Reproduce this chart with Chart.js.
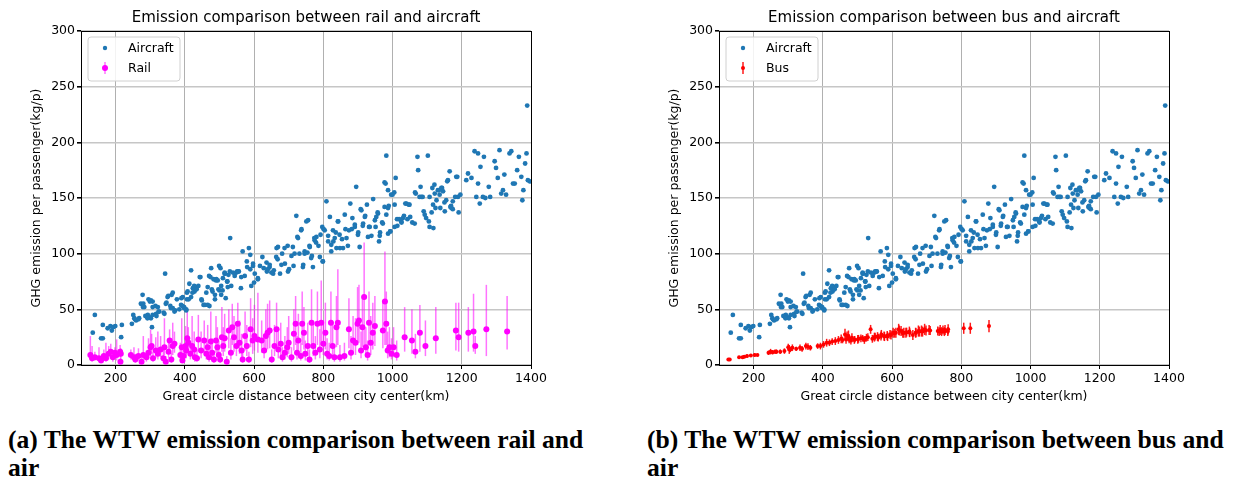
<!DOCTYPE html>
<html><head><meta charset="utf-8">
<script src="https://cdn.jsdelivr.net/npm/chart.js@4/dist/chart.umd.min.js"></script>
<style>
html,body{margin:0;padding:0;background:#fff;}
body{width:1234px;height:483px;position:relative;overflow:hidden;}
#c1{position:absolute;left:0;top:0;}
#c2{position:absolute;left:638px;top:0;}
.cap{position:absolute;top:426px;font-family:"Liberation Serif","Times New Roman",serif;font-weight:bold;font-size:25.6px;line-height:28px;color:#000;white-space:nowrap;}
</style></head>
<body>
<canvas id="c1" width="617" height="412"></canvas>
<canvas id="c2" width="596" height="412"></canvas>
<div class="cap" style="left:8px">(a) The WTW emission comparison between rail and<br>air</div>
<div class="cap" style="left:647px">(b) The WTW emission comparison between bus and<br>air</div>
<script>
// ---------- data ----------
const xTicks = [200, 400, 600, 800, 1000, 1200, 1400];
const yTicks = [0, 50, 100, 150, 200, 250, 300];
const xLabel = 'Great circle distance between city center(km)';
const yLabel = 'GHG emission per passenger(kg/p)';
const titleRail = 'Emission comparison between rail and aircraft';
const titleBus = 'Emission comparison between bus and aircraft';

// aircraft: [distance km, kg per passenger]
const aircraftPoints = [
[134,29],[140,45],[158,24],[163,24],[163,36],[177,33],[185,35],[189,31],[193,34],[199,35],[216,25],[218,36],
[247,37],[251,45],[254,42],[259,40],[268,42],[278,63],[280,55],[283,52],[293,45],[297,43],[302,58],[307,57],
[302,42],[305,34],[307,52],[317,46],[322,52],[326,48],[341,46],[343,82],[345,55],[350,61],[358,53],[362,63],
[365,65],[360,51],[372,49],[389,54],[394,61],[398,52],[404,49],[408,66],[406,59],[413,73],[418,85],[418,61],
[423,69],[428,66],[435,70],[439,71],[445,79],[449,58],[458,54],[466,70],[471,53],[474,79],[476,87],[480,66],
[487,59],[490,76],[495,76],[500,67],[503,87],[505,63],[509,67],[516,82],[522,75],[526,81],[524,70],
[531,114],[515,82],[530,84],[549,83],[556,84],[563,79],[580,88],[585,105],[589,99],[597,91],[602,82],[611,78],
[624,97],[628,87],[637,84],[645,88],[655,82],[664,97],[669,106],[679,90],[688,105],[698,84],[712,106],[717,100],
[722,134],[727,114],[736,121],[741,88],[746,102],[751,129],[756,130],[761,106],[765,96],[770,88],[775,112],
[780,115],[790,97],[797,124],[799,93],[804,121],[809,147],[814,111],[819,133],[823,108],[828,121],[833,114],
[838,105],[843,129],[847,117],[857,105],[862,135],[867,114],[874,121],[878,145],[884,132],[891,124],[895,160],
[900,117],[905,106],[910,139],[915,127],[920,133],[926,144],[929,115],[934,124],[944,149],[949,130],[958,136],[961,111],
[982,188],[980,163],[987,157],[996,153],[1009,168],[1006,144],[977,142],[982,135],[987,141],[953,133],[972,127],
[963,116],[987,118],[994,120],[1006,124],[1013,131],[1025,129],[1030,132],[1040,145],[1047,144],[1051,133],
[1064,127],[1067,154],[1072,187],[1074,175],[1078,151],[1083,151],[1090,138],[1093,135],[1097,132],[1102,188],
[1105,129],[1107,124],[1115,159],[1117,144],[1122,154],[1124,141],[1131,157],[1136,153],[1141,159],[1146,156],
[1151,138],[1155,148],[1160,166],[1165,174],[1167,142],[1170,141],[1174,147],[1184,169],[1189,151],[1196,153],
[1213,166],[1218,172],[1228,168],[1237,192],[1247,190],[1242,151],[1247,163],[1252,145],[1254,178],[1261,151],
[1264,187],[1268,150],[1278,160],[1282,151],[1295,183],[1299,177],[1304,168],[1309,193],[1314,154],[1319,157],
[1323,171],[1328,153],[1338,190],[1343,192],[1348,163],[1353,163],[1360,175],[1365,187],[1372,169],[1375,148],
[1378,157],[1383,181],[1387,190],[1389,233],[1391,166],[1396,165],
[256,41],[266,41],[273,55],[279,52],[286,44],[292,42],[295,59],[299,57],[307,45],[315,53],[318,44],[324,48],
[339,47],[347,56],[352,62],[365,51],[370,48],[377,59],[384,50],[390,60],[393,53],[398,51],[404,50],[406,65],
[411,59],[422,65],[427,71],[434,68],[443,79],[448,59],[454,54],[462,65],[466,54],[470,80],[478,68],[483,77],
[487,63],[491,77],[497,68],[499,89],[505,71],[510,78],[515,83],[518,60],[523,75],[534,71],[539,83],[544,80],
[551,84],[554,84],[562,69],[567,102],[573,80],[579,93],[589,86],[592,71],[597,89],[600,74],[611,77],[617,89],
[636,92],[640,86],[645,90],[650,83],[657,85],[665,105],[668,95],[675,82],[681,100],[689,91],[697,107],[701,86],
[708,98],[714,89],[725,115],[731,100],[737,122],[742,90],[746,100],[754,101],[760,107],[767,98],[774,114],
[779,110],[786,107],[792,117],[798,93],[801,122],[814,116],[823,102],[829,111],[836,119],[842,129],[848,105],
[854,113],[864,122],[871,107],[882,122],[891,126],[901,119],[908,140],[914,125],[921,134],[932,124],[939,116],
[951,124],[957,137],[964,119],[970,128],[977,164],[989,143],[993,120],[1000,153],[1005,155],[1014,125],[1019,131],
[1026,128],[1033,134],[1037,145],[1043,131],[1049,144],[1057,128],[1065,155],[1081,160],[1087,151],[1107,151],
[1113,137],[1118,123],[1121,162],[1127,148],[1134,157],[1138,141],[1143,159],[1150,146],[1158,165],[1169,143],
[1174,140],[1181,151],[1187,169],[1191,137]
];

// rail: [distance, value, error low, error high]
const railPoints = [
[127,9,5,26],[132,6,3,17],[140,7,4,12],[152,6,3,16],[158,4,2,8],[166,8,4,14],[172,6,3,20],[180,10,5,17],
[186,12,6,19],[192,7,3,12],[198,11,6,16],[203,9,4,23],[213,12,7,18],[214,3,1,6],[215,10,5,15],[244,9,5,14],
[253,7,3,16],[257,5,2,10],[266,8,4,15],[275,3,1,8],[280,9,5,26],[289,7,3,13],[295,11,5,24],[301,16,8,32],
[304,17,10,28],[308,6,3,12],[316,13,6,25],[322,10,5,30],[330,14,7,26],[338,6,2,14],[341,16,9,42],[345,3,1,8],
[353,12,6,22],[356,22,12,32],[361,5,2,11],[365,17,9,38],[370,19,11,30],[387,9,4,20],[391,16,8,42],[393,4,2,9],
[396,8,4,18],[402,17,8,35],[404,13,6,26],[407,24,12,50],[410,20,11,34],[416,10,5,22],[421,17,8,44],[427,14,6,30],
[429,7,3,15],[435,6,3,14],[439,23,12,45],[447,13,6,30],[456,22,11,40],[462,10,5,20],[466,16,8,36],[470,7,3,14],
[475,21,10,48],[479,11,5,24],[484,5,2,12],[490,22,11,44],[494,16,7,34],[498,9,4,22],[502,5,2,12],[507,25,12,52],
[511,17,8,34],[515,24,12,46],[521,3,1,8],[527,31,15,50],[533,11,5,24],[537,34,18,55],[542,25,12,44],[549,17,8,38],
[553,37,18,56],[558,20,10,40],[564,13,6,28],[567,5,2,12],[574,26,13,48],[579,17,8,36],[585,5,2,12],[590,32,16,60],
[596,22,10,42],[601,26,13,54],[611,23,11,65],[622,22,11,40],[629,13,6,28],[634,26,12,50],[639,29,14,55],[645,31,15,58],
[651,5,2,14],[659,17,8,36],[665,32,16,56],[670,14,6,30],[677,19,9,38],[682,7,3,16],[689,11,5,26],[696,16,7,34],
[700,20,10,44],[708,7,3,16],[715,28,13,50],[720,37,18,62],[724,11,5,26],[728,22,10,46],[735,8,4,20],[739,37,18,66],
[744,29,14,52],[748,10,4,22],[755,17,8,38],[760,5,2,14],[766,38,18,68],[771,17,8,38],[777,11,5,26],[783,37,18,66],
[790,14,6,32],[794,38,18,76],[800,19,9,40],[806,29,14,56],[811,10,5,24],[817,8,4,20],[822,38,18,66],[827,17,8,38],
[832,7,3,18],[838,34,16,62],[842,38,18,86],[848,7,3,18],[861,8,4,20],[874,32,15,60],[880,11,5,26],[886,22,10,44],
[893,20,9,42],[899,37,18,70],[903,40,20,72],[909,13,6,30],[913,34,16,62],[918,61,14,110],[923,16,7,34],[928,9,4,22],
[932,38,18,66],[937,20,9,44],[943,29,14,56],[949,35,17,62],[972,31,15,58],[978,57,18,102],[982,37,18,66],[986,13,6,30],
[991,16,7,34],[997,10,5,24],[1003,16,7,34],[1012,9,4,22],[1035,25,12,52],[1056,22,10,50],[1066,12,6,28],[1079,29,12,54],
[1095,17,8,40],[1125,24,10,52],[1183,31,13,56],[1191,25,12,56],[1219,29,12,52],[1234,30,12,64],[1239,17,10,26],
[1271,32,8,72],[1331,30,14,62]
];

// bus: [distance, value, half error]
const busPoints = [
[127,5,1],[131,5,1],[158,7,1],[168,7,1],[173,7.5,1],[181,8,1.5],[192,8.5,1],[203,9,1.5],[211,9,1],[243,11,2],
[249,12,2.5],[255,11.5,2],[262,12,2],[266,12,2],[277,12,2],[289,12.5,2.5],[300,16,3],[303,14,4],[306,14,2.5],
[312,15.5,3],[323,14.5,2],[334,15.5,3],[340,14.5,2.5],[351,17,3],[357,16.5,3],[364,15.5,2.5],[385,17,2.5],
[393,17,3],[402,18.5,3],[411,20,3.5],[419,20,3],[427,21,3],[436,21.5,3.5],[445,22.5,3.5],[453,23.5,4],
[457,22.5,3],[464,27.5,5],[467,23,4],[470,26,4],[474,26,5],[476,23.5,4],[481,22,3.5],[484,24.5,4],[491,22.5,3.5],
[492,23,3],[501,23,4],[503,23.5,3.5],[510,24,3.5],[515,24,3],[520,22.5,3.5],[526,24.5,3.5],[530,25,3.5],
[538,32,4],[543,23.5,3.5],[549,25,4],[551,25.5,3.5],[558,25.5,4],[560,24.5,3.5],[568,26,4],[569,27.5,4],
[577,26,4],[578,25.5,4],[586,26.5,4],[587,25.5,4],[594,27.5,4],[597,27,4],[603,29,4.5],[607,28.5,4],[611,29,4.5],
[619,32,5],[621,31,4.5],[626,30.5,4.5],[631,28.5,4],[634,29,4.5],[640,29,4.5],[642,29.5,4],[650,30,4.5],
[651,29,4],[660,27,4.5],[668,29,4.5],[669,29,4],[676,30.5,5],[679,30,4.5],[685,30.5,5],[688,30,4.5],[694,32,5],
[698,31,4.5],[707,31.5,4.5],[710,31,4],[732,30.5,4],[736,30,4],[739,31.5,4.5],[743,30,4],[747,31.5,4],[751,30,4],
[753,31.5,4.5],[761,30,4],[762,32,4.5],[807,33,5],[826,33,5],[880,35,5.5]
];

// ---------- drawing ----------
const FONT = '"DejaVu Sans", sans-serif';
const AIR = '#1f77b4', RAIL = '#ff00ff', BUS = '#ff0000';
const FS = 12.5;

const errorBars = {
  id: 'errorBars',
  beforeDatasetDraw(chart, args) {
    const ds = chart.data.datasets[args.index];
    if (!ds.errLo) return;
    const xs = chart.scales.x, ys = chart.scales.y, ctx = chart.ctx, ca = chart.chartArea;
    ctx.save();
    ctx.beginPath(); ctx.rect(ca.left, ca.top, ca.right - ca.left, ca.bottom - ca.top); ctx.clip();
    ctx.strokeStyle = ds.errColor; ctx.lineWidth = ds.errWidth;
    ds.data.forEach((p, i) => {
      const px = xs.getPixelForValue(p.x);
      ctx.beginPath();
      ctx.moveTo(px, ys.getPixelForValue(ds.errLo[i]));
      ctx.lineTo(px, ys.getPixelForValue(ds.errHi[i]));
      ctx.stroke();
    });
    ctx.restore();
  }
};

const frame = {
  id: 'frame',
  afterDraw(chart, args, opts) {
    const ctx = chart.ctx, ca = chart.chartArea;
    ctx.save();
    ctx.strokeStyle = '#000'; ctx.lineWidth = 1;
    ctx.strokeRect(Math.round(ca.left) + 0.5, Math.round(ca.top) + 0.5,
                   Math.round(ca.right - ca.left), Math.round(ca.bottom - ca.top));
    ctx.fillStyle = '#000'; ctx.font = '15px ' + FONT;
    ctx.textAlign = 'center'; ctx.textBaseline = 'middle';
    ctx.fillText(opts.title, (ca.left + ca.right) / 2, 18);
    const lx = ca.left + 7, ly = ca.top + 6, lw = 92, lh = 44, r = 3;
    ctx.beginPath();
    ctx.moveTo(lx + r, ly); ctx.lineTo(lx + lw - r, ly); ctx.arcTo(lx + lw, ly, lx + lw, ly + r, r);
    ctx.lineTo(lx + lw, ly + lh - r); ctx.arcTo(lx + lw, ly + lh, lx + lw - r, ly + lh, r);
    ctx.lineTo(lx + r, ly + lh); ctx.arcTo(lx, ly + lh, lx, ly + lh - r, r);
    ctx.lineTo(lx, ly + r); ctx.arcTo(lx, ly, lx + r, ly, r); ctx.closePath();
    ctx.fillStyle = 'rgba(255,255,255,0.85)'; ctx.fill();
    ctx.strokeStyle = '#d0d0d0'; ctx.lineWidth = 1; ctx.stroke();
    const mx = lx + 17, tx = lx + 40;
    const rows = [ly + 11, ly + 31];
    ctx.fillStyle = AIR; ctx.beginPath(); ctx.arc(mx, rows[0], 2.2, 0, Math.PI * 2); ctx.fill();
    ctx.strokeStyle = opts.errColor; ctx.lineWidth = 1.5;
    ctx.beginPath(); ctx.moveTo(mx, rows[1] - 6); ctx.lineTo(mx, rows[1] + 6); ctx.stroke();
    ctx.fillStyle = opts.color; ctx.beginPath(); ctx.arc(mx, rows[1], opts.r, 0, Math.PI * 2); ctx.fill();
    ctx.fillStyle = '#000'; ctx.font = FS + 'px ' + FONT; ctx.textAlign = 'left';
    ctx.fillText('Aircraft', tx, rows[0] + 1);
    ctx.fillText(opts.label, tx, rows[1] + 1);
    ctx.restore();
  }
};

function makeChart(id, title, second, label, color, errColor, r, padRight) {
  const air = {
    label: 'Aircraft', data: aircraftPoints.map(p => ({x: p[0], y: p[1]})),
    backgroundColor: AIR, pointRadius: 2.4, pointBorderWidth: 0, pointHoverRadius: 2.4
  };
  const sec = {
    label: label, data: second.map(p => ({x: p[0], y: p[1]})),
    backgroundColor: color, pointRadius: r, pointBorderWidth: 0, pointHoverRadius: r,
    errLo: second.map(p => p.length === 4 ? p[2] : p[1] - p[2]),
    errHi: second.map(p => p.length === 4 ? p[3] : p[1] + p[2]),
    errColor: errColor, errWidth: 1.5
  };
  return new Chart(document.getElementById(id), {
    type: 'scatter',
    data: { datasets: [air, sec] },
    plugins: [errorBars, frame],
    options: {
      responsive: false, animation: false, devicePixelRatio: 1,
      layout: { padding: { left: 29, top: 31, right: padRight, bottom: 0 } },
      plugins: {
        legend: { display: false }, tooltip: { enabled: false },
        frame: { title: title, label: label, color: color, errColor: errColor, r: r }
      },
      scales: {
        x: {
          type: 'linear', min: 100, max: 1400,
          afterBuildTicks: s => { s.ticks = xTicks.map(v => ({ value: v })); },
          afterFit: s => { s.height = 47; },
          grid: { color: '#b0b0b0', lineWidth: 1, tickColor: '#000', tickLength: 4, drawTicks: true },
          border: { display: false },
          ticks: { color: '#000', font: { family: FONT, size: FS }, padding: 2, maxRotation: 0, autoSkip: false,
                   callback: v => String(v) },
          title: { display: true, text: xLabel, color: '#000', font: { family: FONT, size: FS },
                   padding: { top: 2, bottom: 8 } }
        },
        y: {
          type: 'linear', min: 0, max: 300,
          afterBuildTicks: s => { s.ticks = yTicks.map(v => ({ value: v })); },
          afterFit: s => { s.width = 52; },
          grid: { color: '#c6c6c6', lineWidth: 1.6, tickColor: '#000', tickLength: 4, drawTicks: true },
          border: { display: false },
          ticks: { color: '#000', font: { family: FONT, size: FS }, padding: 2, autoSkip: false,
                   callback: v => String(v) },
          title: { display: true, text: yLabel, color: '#000', font: { family: FONT, size: FS },
                   padding: { top: 0, bottom: 0 } }
        }
      }
    }
  });
}

makeChart('c1', titleRail, railPoints, 'Rail', RAIL, 'rgba(255,0,255,0.55)', 3.0, 86);
makeChart('c2', titleBus, busPoints, 'Bus', BUS, 'rgba(255,0,0,0.9)', 2.0, 65);
</script>
</body></html>
